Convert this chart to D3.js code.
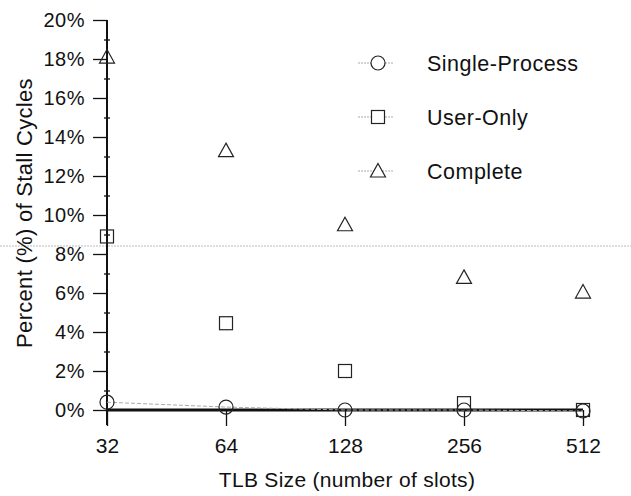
<!DOCTYPE html>
<html>
<head>
<meta charset="utf-8">
<script src="https://cdn.jsdelivr.net/npm/d3@7"></script>
<style>
  body { margin: 0; background: #fff; }
  text { font-family: "Liberation Sans", Arial, sans-serif; fill: #111; }
</style>
</head>
<body>
<div id="chart-area"></div>
<script>
// TLB sizes and stall-cycle percentages
var tlbSizes = [32, 64, 128, 256, 512];
var singleProcess = [0.4, 0.15, 0.0, 0.0, -0.05];
var userOnly = [8.9, 4.45, 2.0, 0.35, 0.0];
var complete = [18.1, 13.3, 9.5, 6.8, 6.05];
var yTicks = [0, 2, 4, 6, 8, 10, 12, 14, 16, 18, 20];
var yMinorTicks = [1, 3, 5, 7, 9, 11, 13, 15, 17, 19];

var series = [
    {name: "Single-Process", values: singleProcess, shape: "circle"},
    {name: "User-Only", values: userOnly, shape: "square"},
    {name: "Complete", values: complete, shape: "triangle"}
];

var width = 631, height = 496;

var svg = d3.select("#chart-area").append("svg")
    .attr("width", width)
    .attr("height", height);

var x = d3.scaleLog().base(2).domain([32, 512]).range([107, 583]);
var y = d3.scaleLinear().domain([0, 20]).range([410, 20]);

// faint scan line across the page
svg.append("line")
    .attr("x1", 0).attr("x2", width)
    .attr("y1", 246).attr("y2", 246)
    .attr("stroke", "#bbb")
    .attr("stroke-width", 1)
    .attr("stroke-dasharray", "2,1");

// y axis (major + minor ticks)
var yAxis = svg.append("g")
    .attr("transform", "translate(107,0)")
    .call(d3.axisLeft(y).tickValues(yTicks).tickSize(14).tickPadding(8)
        .tickFormat(function (d) { return d + "%"; }));

svg.append("g")
    .attr("transform", "translate(104,0)")
    .call(d3.axisRight(y).tickValues(yMinorTicks).tickSize(6).tickFormat(""))
    .select(".domain").remove();

// x axis
var xAxis = svg.append("g")
    .attr("transform", "translate(0,410)")
    .call(d3.axisBottom(x).tickValues(tlbSizes).tickSize(16).tickPadding(12)
        .tickFormat(function (d) { return d; }));

svg.selectAll(".domain").attr("stroke", "#111").attr("stroke-width", 2);
svg.selectAll(".tick line").attr("stroke", "#111").attr("stroke-width", 1.3);
yAxis.selectAll("text").style("font-size", "20px").style("letter-spacing", "0.5px");
xAxis.selectAll("text").style("font-size", "21px");
yAxis.select(".domain").attr("d", "M0,20V425");
xAxis.select(".domain").attr("d", "M107,0H583").attr("stroke-width", 3);

// axis titles
svg.append("text")
    .attr("x", 347).attr("y", 487)
    .attr("text-anchor", "middle")
    .style("font-size", "21px")
    .style("letter-spacing", "0.3px")
    .text("TLB Size (number of slots)");

svg.append("text")
    .attr("transform", "translate(32,213) rotate(-90)")
    .attr("text-anchor", "middle")
    .style("font-size", "22px")
    .style("letter-spacing", "0.3px")
    .text("Percent (%) of Stall Cycles");

// faint connecting line for single-process
var line = d3.line()
    .x(function (d, i) { return x(tlbSizes[i]); })
    .y(function (d) { return y(d); });

svg.append("path")
    .datum(singleProcess)
    .attr("d", line)
    .attr("fill", "none")
    .attr("stroke", "#aaa")
    .attr("stroke-width", 1)
    .attr("stroke-dasharray", "4,2");

function drawMarker(g, shape, cx, cy) {
    if (shape === "circle") {
        g.append("circle").attr("cx", cx).attr("cy", cy).attr("r", 7);
    } else if (shape === "square") {
        g.append("rect").attr("x", cx - 6.5).attr("y", cy - 6.5)
            .attr("width", 13).attr("height", 13);
    } else {
        g.append("path").attr("d", "M" + cx + "," + (cy - 7.5) +
            "L" + (cx + 7.5) + "," + (cy + 6) + "L" + (cx - 7.5) + "," + (cy + 6) + "Z");
    }
}

var marks = svg.append("g")
    .attr("fill", "none")
    .attr("stroke", "#222")
    .attr("stroke-width", 1.2);

series.forEach(function (s) {
    s.values.forEach(function (v, i) {
        drawMarker(marks, s.shape, x(tlbSizes[i]), y(v));
    });
});

// legend
var legend = svg.append("g");
series.forEach(function (s, i) {
    var ly = 63 + i * 54;
    legend.append("line")
        .attr("x1", 358).attr("x2", 394)
        .attr("y1", ly).attr("y2", ly)
        .attr("stroke", "#aaa")
        .attr("stroke-dasharray", "2,1");
    var g = legend.append("g")
        .attr("fill", "#fff")
        .attr("stroke", "#222")
        .attr("stroke-width", 1.2);
    drawMarker(g, s.shape, 378, ly);
    legend.append("text")
        .attr("x", 427).attr("y", ly + 8)
        .style("font-size", "21.5px")
        .style("letter-spacing", "0.5px")
        .text(s.name);
});
</script>
</body>
</html>
